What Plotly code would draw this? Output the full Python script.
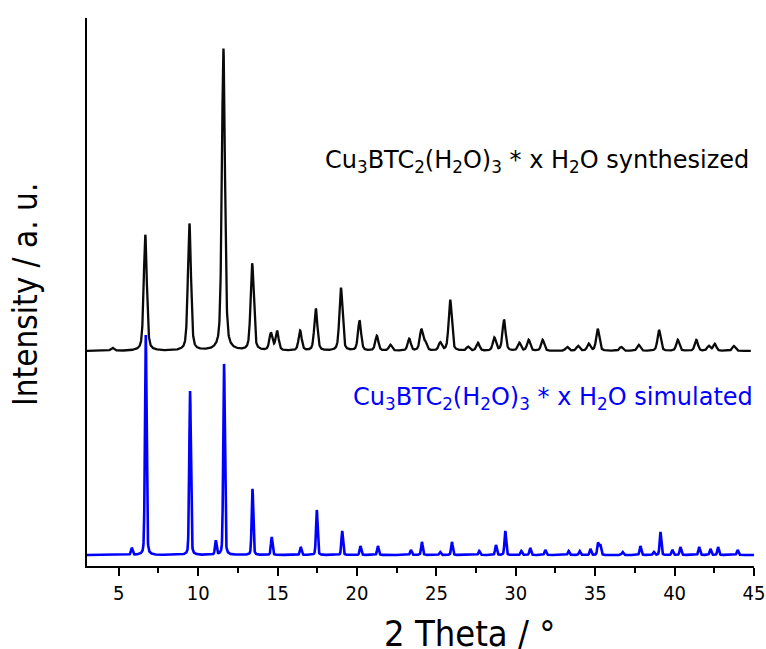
import numpy as np
import plotly.graph_objects as go

# ---- data (2theta in degrees, intensity in a.u.) ----
# synthesized pattern: peak positions and peak heights above baseline
syn_pos = [4.6, 6.67, 9.45, 11.59, 13.40, 14.58, 14.97, 16.42, 17.41, 18.99, 20.16, 21.25,
           22.1, 23.29, 24.05, 24.3, 25.24, 25.87, 26.99, 27.62, 28.65, 29.26, 30.22,
           30.81, 31.69, 33.23, 33.92, 34.59, 35.16, 36.63, 37.74, 39.02, 40.2, 41.37,
           42.15, 42.53, 43.73]
syn_int = [3, 116, 127, 302, 87, 17, 19, 20, 42, 63, 30, 15,
           6, 12, 21, 8, 8, 51, 4, 8, 13, 31, 8,
           11, 11, 4, 5, 7, 22, 4, 6, 21, 11, 11,
           5, 7, 5]
syn_fwhm = 0.23
syn_offset = 215
syn_range = [3.0, 44.8]

# simulated pattern
sim_pos = [5.82, 6.70, 9.49, 11.11, 11.63, 13.42, 14.63, 16.46, 17.47, 19.07, 20.22, 21.32,
           23.4, 24.09, 25.24, 25.98, 27.7, 28.75, 29.34, 30.35, 30.91, 31.86, 33.33,
           34.02, 34.7, 35.18, 35.32, 36.73, 37.85, 38.69, 39.11, 39.86, 40.37, 41.55,
           42.26, 42.74, 43.97]
sim_int = [7, 220, 164, 14, 191, 66, 18, 8, 45, 24, 9, 9,
           5, 13, 3, 13, 4, 10, 24, 4, 7, 5, 4,
           4, 6, 12, 10, 3, 9, 3, 23, 5, 8, 8,
           6, 8, 5]
sim_fwhm = 0.12
sim_offset = 11
sim_range = [3.0, 45.0]

x_ticks = [5, 10, 15, 20, 25, 30, 35, 40, 45]
label_syn = "Cu<sub>3</sub>BTC<sub>2</sub>(H<sub>2</sub>O)<sub>3</sub> * x H<sub>2</sub>O synthesized"
label_sim = "Cu<sub>3</sub>BTC<sub>2</sub>(H<sub>2</sub>O)<sub>3</sub> * x H<sub>2</sub>O simulated"


def pattern(pos, inten, fwhm, offset, xr, eta=0.35):
    x = np.arange(xr[0], xr[1] + 1e-9, 0.01)
    y = np.full_like(x, offset, dtype=float)
    s = fwhm / 2.3548
    g = fwhm / 2
    for p, h in zip(pos, inten):
        gauss = np.exp(-0.5 * ((x - p) / s) ** 2)
        lor = 1 / (1 + ((x - p) / g) ** 2)
        y += h * ((1 - eta) * gauss + eta * lor)
    return x, y


xs, ys = pattern(syn_pos, syn_int, syn_fwhm, syn_offset, syn_range, eta=0.45)
xm, ym = pattern(sim_pos, sim_int, sim_fwhm, sim_offset, sim_range, eta=0.25)

fig = go.Figure()
fig.add_trace(go.Scatter(x=xs, y=ys, mode="lines", line=dict(color="#0a0a0a", width=2.3),
                         showlegend=False, hoverinfo="skip"))
fig.add_trace(go.Scatter(x=xm, y=ym, mode="lines", line=dict(color="#0000ff", width=2.6),
                         showlegend=False, hoverinfo="skip"))

cond = "DejaVu Sans Condensed, DejaVu Sans, sans-serif"
fig.update_layout(
    width=766, height=649,
    margin=dict(l=87, r=12, t=18, b=83, autoexpand=False),
    paper_bgcolor="white", plot_bgcolor="white",
    xaxis=dict(range=[3, 45], tickvals=x_ticks, ticks="outside", ticklen=8, tickwidth=1.5,
               tickcolor="black", showline=True, linecolor="black", linewidth=2,
               showgrid=False, zeroline=False, automargin=False,
               tickfont=dict(family=cond, size=20, color="black"),
               minor=dict(dtick=2.5, tick0=5, ticks="outside", ticklen=5, tickwidth=1.5,
                          tickcolor="black", showgrid=False)),
    yaxis=dict(range=[0, 548], showline=True, linecolor="black", linewidth=2,
               showticklabels=False, ticks="", showgrid=False, zeroline=False,
               automargin=False),
    annotations=[
        dict(text="2 Theta / °", xref="paper", yref="paper", x=0.573, y=-0.122,
             xanchor="center", yanchor="middle", showarrow=False, height=38,
             font=dict(family=cond, size=36, color="black")),
        dict(text="Intensity / a. u.", xref="paper", yref="paper", x=0, xshift=-62,
             y=0.4945, xanchor="center", yanchor="middle", textangle=-90, showarrow=False,
             font=dict(family=cond, size=33, color="black")),
        dict(text=label_syn, xref="paper", yref="y", x=1, xshift=-3, y=566 - 161,
             xanchor="right", yanchor="middle", showarrow=False,
             font=dict(family="DejaVu Sans", size=24, color="black")),
        dict(text=label_sim, xref="paper", yref="y", x=1, xshift=1, y=566 - 398,
             xanchor="right", yanchor="middle", showarrow=False,
             font=dict(family="DejaVu Sans", size=24, color="#0000ff")),
    ],
)

fig.write_html("out.html", config={"displayModeBar": False},
               post_script="document.body.style.margin='0';document.body.style.overflow='hidden';")
